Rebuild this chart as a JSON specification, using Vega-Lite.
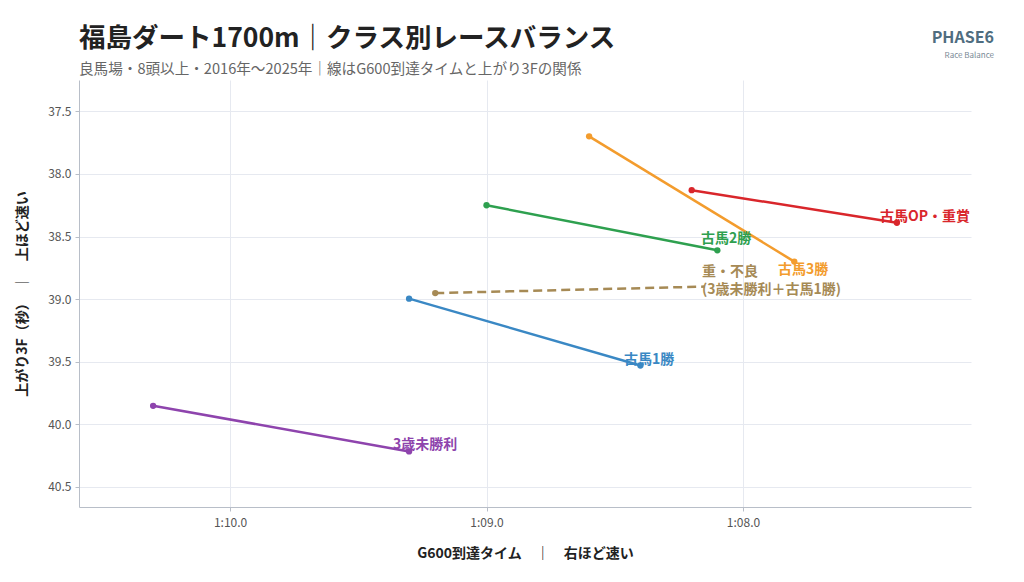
{
  "$schema": "https://vega.github.io/schema/vega-lite/v6.json",
  "autosize": "none",
  "width": 892,
  "height": 427,
  "padding": {"left": 79, "top": 80, "right": 53, "bottom": 75},
  "background": "white",
  "config": {
    "font": "Noto Sans CJK JP",
    "view": {"stroke": null},
    "axis": {
      "labelFont": "Noto Sans CJK JP",
      "titleFont": "Noto Sans CJK JP",
      "labelColor": "#555555",
      "labelFontSize": 12,
      "titleFontSize": 14,
      "titleFontWeight": "bold",
      "titleColor": "#222222",
      "gridColor": "#e6e9f0",
      "domainColor": "#b8bec8",
      "tickColor": "#b8bec8",
      "tickSize": 4
    }
  },
  "title": {
    "text": "福島ダート1700m｜クラス別レースバランス",
    "subtitle": "良馬場・8頭以上・2016年〜2025年｜線はG600到達タイムと上がり3Fの関係",
    "anchor": "start",
    "frame": "group",
    "font": "Noto Sans CJK JP",
    "fontSize": 26.5,
    "fontWeight": "bold",
    "color": "#222222",
    "subtitleFont": "Noto Sans CJK JP",
    "subtitleFontSize": 14.6,
    "subtitleColor": "#666666",
    "subtitlePadding": 10,
    "offset": -47
  },
  "datasets": {
    "lines": [
      {"series": "3歳未勝利", "x": 70.30, "y": 39.852},
      {"series": "3歳未勝利", "x": 69.302, "y": 40.216},
      {"series": "古馬1勝", "x": 69.302, "y": 38.996},
      {"series": "古馬1勝", "x": 68.40, "y": 39.53},
      {"series": "古馬2勝", "x": 69.00, "y": 38.25},
      {"series": "古馬2勝", "x": 68.10, "y": 38.61},
      {"series": "古馬3勝", "x": 68.60, "y": 37.70},
      {"series": "古馬3勝", "x": 67.80, "y": 38.70},
      {"series": "古馬OP・重賞", "x": 68.20, "y": 38.13},
      {"series": "古馬OP・重賞", "x": 67.40, "y": 38.39},
      {"series": "重・不良", "x": 69.20, "y": 38.952},
      {"series": "重・不良", "x": 68.15, "y": 38.90}
    ],
    "labels": [
      {"series": "3歳未勝利", "text": "3歳未勝利", "x": 69.365, "y": 40.168},
      {"series": "古馬1勝", "text": "古馬1勝", "x": 68.464, "y": 39.484},
      {"series": "古馬2勝", "text": "古馬2勝", "x": 68.164, "y": 38.52},
      {"series": "古馬3勝", "text": "古馬3勝", "x": 67.864, "y": 38.764},
      {"series": "古馬OP・重賞", "text": "古馬OP・重賞", "x": 67.466, "y": 38.348},
      {"series": "重・不良", "text": "重・不良", "x": 68.16, "y": 38.78},
      {"series": "重・不良", "text": "(3歳未勝利＋古馬1勝)", "x": 68.16, "y": 38.924}
    ]
  },
  "encoding": {
    "x": {
      "field": "x", "type": "quantitative",
      "scale": {"domain": [67.111, 70.589], "reverse": true, "nice": false, "zero": false},
      "axis": {
        "title": "G600到達タイム　｜　右ほど速い",
        "values": [70, 69, 68],
        "labelExpr": "floor(datum.value/60) + ':' + format(datum.value % 60, '04.1f')",
        "labelPadding": 6,
        "titlePadding": 18
      }
    },
    "y": {
      "field": "y", "type": "quantitative",
      "scale": {"domain": [37.25, 40.66], "reverse": true, "nice": false, "zero": false},
      "axis": {
        "title": "上がり3F（秒）　｜　上ほど速い",
        "values": [37.5, 38.0, 38.5, 39.0, 39.5, 40.0, 40.5],
        "format": ".1f",
        "labelPadding": 4,
        "titlePadding": 18
      }
    },
    "color": {
      "field": "series", "type": "nominal",
      "scale": {
        "domain": ["3歳未勝利", "古馬1勝", "古馬2勝", "古馬3勝", "古馬OP・重賞", "重・不良"],
        "range": ["#8e44ad", "#3a88c4", "#2ea04f", "#f39c2d", "#d9262b", "#a68a55"]
      },
      "legend": null
    }
  },
  "layer": [
    {
      "data": {"name": "lines"},
      "transform": [{"filter": "datum.series != '重・不良'"}],
      "mark": {"type": "line", "strokeWidth": 2.5},
      "encoding": {"detail": {"field": "series"}}
    },
    {
      "data": {"name": "lines"},
      "transform": [{"filter": "datum.series == '重・不良'"}],
      "mark": {"type": "line", "strokeWidth": 2.5, "strokeDash": [9, 5]},
      "encoding": {"detail": {"field": "series"}}
    },
    {
      "data": {"name": "lines"},
      "transform": [{"filter": "datum.series != '重・不良' || datum.x > 69"}],
      "mark": {"type": "circle", "size": 40, "opacity": 1}
    },
    {
      "data": {"name": "labels"},
      "mark": {"type": "text", "align": "left", "baseline": "middle", "fontSize": 14, "fontWeight": "bold", "font": "Noto Sans CJK JP"},
      "encoding": {"text": {"field": "text"}}
    },
    {
      "data": {"values": [{"t": "PHASE6"}]},
      "mark": {"type": "text", "align": "right", "baseline": "middle", "fontSize": 16, "fontWeight": "bold", "dx": 23, "dy": -42, "font": "Noto Sans CJK JP"},
      "encoding": {"text": {"field": "t"}, "x": {"value": "width"}, "y": {"value": 0}, "color": {"value": "#4f6d80"}}
    },
    {
      "data": {"values": [{"t": "Race Balance"}]},
      "mark": {"type": "text", "align": "right", "baseline": "middle", "fontSize": 8, "dx": 23, "dy": -24, "font": "Noto Sans CJK JP"},
      "encoding": {"text": {"field": "t"}, "x": {"value": "width"}, "y": {"value": 0}, "color": {"value": "#7a8a96"}}
    }
  ]
}
